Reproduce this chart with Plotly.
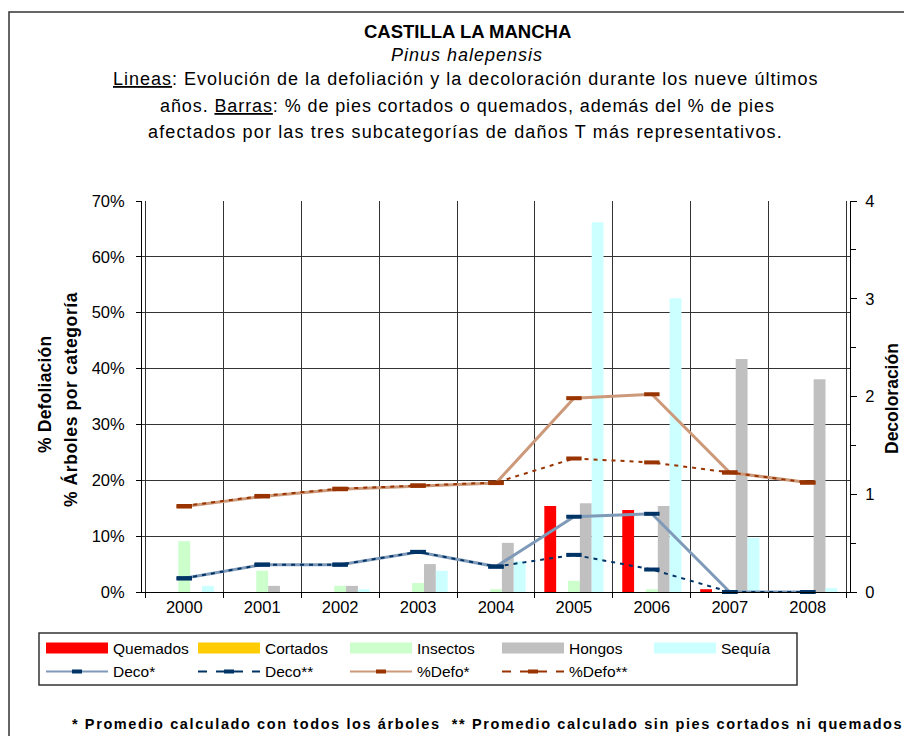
import plotly.graph_objects as go

# ---------------- data ----------------
years = ["2000", "2001", "2002", "2003", "2004", "2005", "2006", "2007", "2008"]

quemados = [0, 0, 0, 0, 0, 15.4, 14.7, 0.5, 0]
cortados = [0, 0, 0, 0, 0, 0, 0, 0, 0]
insectos = [9.1, 3.8, 1.1, 1.6, 0.5, 2.0, 0.5, 0, 0]
hongos = [0, 1.1, 1.1, 5.0, 8.8, 15.9, 15.4, 41.7, 38.1]
sequia = [1.1, 0, 0.5, 3.8, 5.5, 66.2, 52.6, 9.7, 0.7]

deco_todos = [0.14, 0.28, 0.28, 0.41, 0.26, 0.77, 0.80, 0.0, 0.0]
deco_sin = [0.14, 0.28, 0.28, 0.41, 0.26, 0.38, 0.23, 0.0, 0.0]
defo_todos = [15.3, 17.1, 18.4, 19.0, 19.5, 34.7, 35.4, 21.4, 19.6]
defo_sin = [15.4, 17.2, 18.5, 19.1, 19.6, 23.9, 23.2, 21.4, 19.6]

left_ticks = [0, 10, 20, 30, 40, 50, 60, 70]
right_ticks = [0, 1, 2, 3, 4]

# ---------------- geometry helpers (screen px -> paper) ----------------
OFF = 8                      # page body margin
W, H = 912 - OFF, 744 - 2 * OFF
L, R, T, B = 142, 850, 201, 592   # plot area in screen px
FONT = "Liberation Sans, Arial, sans-serif"


def fx(x):
    return (x - L) / (R - L)


def fy(y):
    return (B - y) / (B - T)


C_QUEM = "#FF0000"
C_CORT = "#FFCC00"
C_INSE = "#CCFFCC"
C_HONG = "#C0C0C0"
C_SEQU = "#CCFFFF"
C_DECO1 = "#7F9AB8"
C_NAVY = "#003366"
C_DEFO1 = "#CC997A"
C_BROWN = "#993300"

fig = go.Figure()

bar_specs = [("Quemados", quemados, C_QUEM), ("Cortados", cortados, C_CORT),
             ("Insectos", insectos, C_INSE), ("Hongos", hongos, C_HONG),
             ("Sequía", sequia, C_SEQU)]
for name, vals, col in bar_specs:
    fig.add_trace(go.Bar(x=years, y=vals, name=name, showlegend=False,
                         marker=dict(color=col, line=dict(width=0))))


def mk(c):
    return dict(symbol="line-ew", size=11, line=dict(width=4, color=c), color=c)


fig.add_trace(go.Scatter(x=years, y=deco_todos, name="Deco*", yaxis="y2", mode="lines+markers",
                         line=dict(color=C_DECO1, width=3), marker=mk(C_NAVY),
                         cliponaxis=False, showlegend=False))
fig.add_trace(go.Scatter(x=years, y=deco_sin, name="Deco**", yaxis="y2", mode="lines+markers",
                         line=dict(color=C_NAVY, width=2, dash="4px,5px"), marker=mk(C_NAVY),
                         cliponaxis=False, showlegend=False))
fig.add_trace(go.Scatter(x=years, y=defo_todos, name="%Defo*", mode="lines+markers",
                         line=dict(color=C_DEFO1, width=3), marker=mk(C_BROWN),
                         cliponaxis=False, showlegend=False))
fig.add_trace(go.Scatter(x=years, y=defo_sin, name="%Defo**", mode="lines+markers",
                         line=dict(color=C_BROWN, width=2, dash="4px,5px"), marker=mk(C_BROWN),
                         cliponaxis=False, showlegend=False))

GRID = "#333333"
TICKF = dict(family=FONT, size=16.5, color="black")

shapes = []
annotations = []

# outer border (right/bottom outside the view)
shapes.append(dict(type="rect", xref="paper", yref="paper",
                   x0=fx(9), x1=fx(940), y0=fy(780), y1=fy(12),
                   line=dict(color="#333333", width=1.5), fillcolor="rgba(0,0,0,0)", layer="below"))


def add_text(txt, x, y, size, ls=0.0):
    if ls:
        txt = f"<span style='letter-spacing:{ls}px'>{txt}</span>"
    annotations.append(dict(text=txt, x=fx(x), y=fy(y), xref="paper", yref="paper",
                            xanchor="center", yanchor="middle", showarrow=False,
                            font=dict(family=FONT, size=size, color="black")))


U = "<span style='text-decoration:underline'>{}</span>"
add_text("<b>CASTILLA LA MANCHA</b>", 467, 31, 18.5)
add_text("<i>Pinus halepensis</i>", 467, 55, 18, 1.0)
add_text(U.format("Lineas") + ": Evolución de la defoliación y la decoloración durante los nueve últimos",
         465, 79, 18, 1.0)
add_text("años. " + U.format("Barras") + ": % de pies cortados o quemados, además del % de pies",
         467, 106, 18, 0.9)
add_text("afectados por las tres subcategorías de daños T más representativos.", 465, 132, 18, 1.15)

# axis titles
for txt, x, y, ls in [("<b>% Defoliación</b>", 45, 395, 0.2),
                      ("<b>% Árboles por categoría</b>", 70, 400, 0.6),
                      ("<b>Decoloración</b>", 892, 399, 0.0)]:
    if ls:
        txt = f"<span style='letter-spacing:{ls}px'>{txt}</span>"
    annotations.append(dict(text=txt, x=fx(x), y=fy(y), xref="paper", yref="paper",
                            xanchor="center", yanchor="middle", textangle=-90, showarrow=False,
                            font=dict(family=FONT, size=17.5, color="black")))

# footnote
add_text("<b>* Promedio calculado con todos los árboles  ** Promedio calculado sin pies cortados ni quemados</b>",
         487, 724, 14.5, 1.6)

# legend (manual)
shapes.append(dict(type="rect", xref="paper", yref="paper", x0=fx(39), x1=fx(797), y0=fy(685), y1=fy(633),
                   line=dict(color="#333333", width=1.5), fillcolor="white"))
LEGF = 15.5
for i, (name, vals, col) in enumerate(bar_specs):
    x0 = 46 + 152 * i
    shapes.append(dict(type="rect", xref="paper", yref="paper", x0=fx(x0), x1=fx(x0 + 62),
                       y0=fy(653.5), y1=fy(642.5), line=dict(width=0), fillcolor=col))
    annotations.append(dict(text=name, x=fx(x0 + 65), y=fy(648), xref="paper", yref="paper",
                            xanchor="left", yanchor="middle", showarrow=False,
                            font=dict(family=FONT, size=LEGF, color="black")))
line_specs = [("Deco*", C_DECO1, 2, "solid", C_NAVY), ("Deco**", C_NAVY, 2, "dash", C_NAVY),
              ("%Defo*", C_DEFO1, 2, "solid", C_BROWN), ("%Defo**", C_BROWN, 2, "dash", C_BROWN)]
for i, (name, lc, lw, dash, mc) in enumerate(line_specs):
    x0 = 46 + 152 * i
    shapes.append(dict(type="line", xref="paper", yref="paper", x0=fx(x0), x1=fx(x0 + 62),
                       y0=fy(671.5), y1=fy(671.5), line=dict(color=lc, width=lw, dash=dash)))
    shapes.append(dict(type="rect", xref="paper", yref="paper", x0=fx(x0 + 26), x1=fx(x0 + 36),
                       y0=fy(673.5), y1=fy(669.5), line=dict(width=0), fillcolor=mc))
    annotations.append(dict(text=name, x=fx(x0 + 65), y=fy(671), xref="paper", yref="paper",
                            xanchor="left", yanchor="middle", showarrow=False,
                            font=dict(family=FONT, size=LEGF, color="black")))

fig.update_layout(
    width=W, height=H,
    margin=dict(l=L - OFF, r=W - (R - OFF), t=T - OFF, b=H - (B - OFF), pad=0),
    paper_bgcolor="white", plot_bgcolor="white",
    barmode="group", bargap=0.24, bargroupgap=0,
    showlegend=False,
    font=dict(family=FONT, color="black"),
    xaxis=dict(type="category", tickson="boundaries", showgrid=True, gridcolor=GRID, gridwidth=1,
               ticks="outside", ticklen=5, tickcolor="black", showline=True, linecolor="black",
               linewidth=1, tickfont=TICKF),
    yaxis=dict(range=[0, 70], tickvals=left_ticks, ticktext=[f"{v}%" for v in left_ticks],
               showgrid=True, gridcolor=GRID, gridwidth=1, zeroline=False, showline=True,
               linecolor="black", linewidth=1, ticks="outside", ticklen=5, tickcolor="black",
               tickfont=TICKF, ticklabelstandoff=8),
    yaxis2=dict(range=[0, 4], tickvals=right_ticks, overlaying="y", side="right", showgrid=False,
                zeroline=False, showline=True, linecolor="black", linewidth=1, ticks="outside",
                ticklen=6, tickcolor="black", tickfont=TICKF, ticklabelstandoff=5,
                minor=dict(dtick=0.5, ticks="outside", ticklen=5, tickcolor="black", showgrid=False)),
    shapes=shapes, annotations=annotations,
)

fig.write_html("out.html")
